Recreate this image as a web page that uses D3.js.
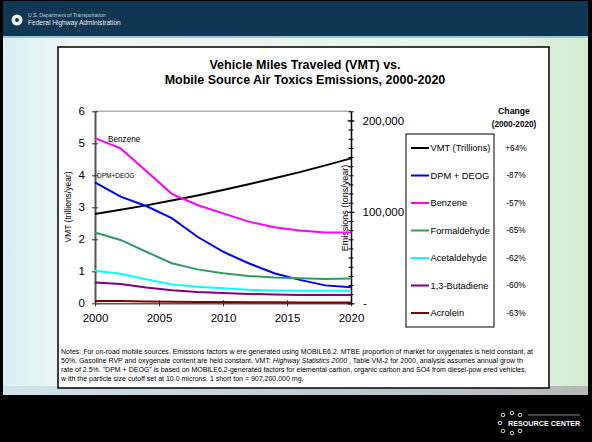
<!DOCTYPE html>
<html>
<head>
<meta charset="utf-8">
<script src="https://cdn.jsdelivr.net/npm/d3@7"></script>
<style>
  body { margin: 0; background: #000; }
  svg { display: block; }
  text { font-family: "Liberation Sans", Arial, sans-serif; }
</style>
</head>
<body>
<div id="chart"></div>
<script>
// data
var years = [2000, 2002, 2004, 2006, 2008, 2010, 2012, 2014, 2016, 2018, 2020];
var vmt = [2.79, 2.92, 3.06, 3.21, 3.37, 3.54, 3.72, 3.91, 4.10, 4.31, 4.53]; // trillions/year
var dpmDeog = [132300, 116600, 106400, 93100, 72800, 56400, 43800, 32900, 25600, 19600, 17500]; // tons/year
var benzene = [180600, 169400, 144600, 119700, 107500, 98400, 89300, 83100, 79500, 77400, 77400];
var formaldehyde = [77400, 69300, 56400, 43800, 37100, 32900, 29800, 28200, 27300, 26600, 27100];
var acetaldehyde = [35700, 32200, 26300, 20700, 18200, 16500, 14700, 14000, 13800, 13600, 13600];
var butadiene = [22800, 21000, 17200, 14400, 12300, 11200, 10200, 9500, 9100, 9100, 9100];
var acrolein = [2600, 2450, 2100, 1750, 1550, 1400, 1250, 1100, 1000, 970, 960];

var seriesNames = ["VMT (Trillions)", "DPM + DEOG", "Benzene", "Formaldehyde", "Acetaldehyde", "1,3-Butadiene", "Acrolein"];
var changeLabels = ["+64%", "-87%", "-57%", "-65%", "-62%", "-60%", "-63%"];
var leftTicks = [0, 1, 2, 3, 4, 5, 6];
var rightTicks = [0, 100000, 200000];
var xTicks = [2000, 2005, 2010, 2015, 2020];

var emissions = [dpmDeog, benzene, formaldehyde, acetaldehyde, butadiene, acrolein];
var colors = ["#000000", "#0000ff", "#ff00ff", "#339966", "#00ffff", "#800080", "#800000"];

var W = 592, H = 442;
var svg = d3.select("#chart").append("svg")
    .attr("width", W)
    .attr("height", H);

var defs = svg.append("defs");
var bg = defs.append("linearGradient").attr("id", "bg").attr("x1", 0).attr("x2", 1).attr("y1", 0).attr("y2", 0);
bg.append("stop").attr("offset", "0%").attr("stop-color", "#d9eef2");
bg.append("stop").attr("offset", "12%").attr("stop-color", "#eef7f6");
bg.append("stop").attr("offset", "88%").attr("stop-color", "#e4f4e4");
bg.append("stop").attr("offset", "100%").attr("stop-color", "#d0ecd0");
var bot = defs.append("linearGradient").attr("id", "bot").attr("x1", 0).attr("x2", 1).attr("y1", 0).attr("y2", 0);
bot.append("stop").attr("offset", "0%").attr("stop-color", "#cfe4ea");
bot.append("stop").attr("offset", "100%").attr("stop-color", "#b8b8b8");

// slide background
svg.append("rect").attr("x", 0).attr("y", 0).attr("width", W).attr("height", H).attr("fill", "#000");
svg.append("rect").attr("x", 3).attr("y", 1).attr("width", 585).attr("height", 35).attr("fill", "#0d3753");
svg.append("rect").attr("x", 3).attr("y", 36).attr("width", 585).attr("height", 352).attr("fill", "url(#bg)");
svg.append("rect").attr("x", 3).attr("y", 36).attr("width", 585).attr("height", 2).attr("fill", "#9fc3cf");
svg.append("rect").attr("x", 3).attr("y", 386).attr("width", 585).attr("height", 9).attr("fill", "url(#bot)");

// header logo + agency name
svg.append("circle").attr("cx", 17).attr("cy", 20).attr("r", 5.5).attr("fill", "#e8eef2");
svg.append("circle").attr("cx", 17).attr("cy", 20).attr("r", 2).attr("fill", "#0d3753");
svg.append("text").attr("x", 28).attr("y", 17).attr("fill", "#c9d6de").style("font-size", "5.1px")
    .text("U.S. Department of Transportation");
svg.append("text").attr("x", 28).attr("y", 25).attr("fill", "#e6ecf0").style("font-size", "6.6px")
    .text("Federal Highway Administration");

// resource center logo
var dots = [[503, 415], [512, 413], [520, 415], [500, 423], [503, 431], [512, 433], [520, 431]];
svg.selectAll("circle.dot").data(dots).enter().append("circle")
    .attr("class", "dot")
    .attr("cx", d => d[0]).attr("cy", d => d[1]).attr("r", 1.8)
    .attr("fill", "none").attr("stroke", "#ddd").attr("stroke-width", 1);
svg.append("text").attr("x", 508).attr("y", 426).attr("fill", "#fff")
    .style("font-size", "7.2px").style("font-weight", "bold").text("RESOURCE CENTER");
svg.append("rect").attr("x", 528).attr("y", 414.5).attr("width", 52).attr("height", 1).attr("fill", "#888");

// chart panel
svg.append("rect").attr("x", 58).attr("y", 47).attr("width", 491).attr("height", 341)
    .attr("fill", "#fff").attr("stroke", "#000").attr("stroke-width", 1.5);

svg.append("text").attr("x", 305).attr("y", 69).attr("text-anchor", "middle")
    .style("font-size", "12.5px").style("font-weight", "bold")
    .text("Vehicle Miles Traveled (VMT) vs.");
svg.append("text").attr("x", 305).attr("y", 84).attr("text-anchor", "middle")
    .style("font-size", "12.5px").style("font-weight", "bold")
    .text("Mobile Source Air Toxics Emissions, 2000-2020");

var x = d3.scaleLinear().domain([2000, 2020]).range([95, 351]);
var yL = d3.scaleLinear().domain([0, 6]).range([303.3, 111.3]);
var yR = d3.scaleLinear().domain([0, 210000]).range([303.3, 111.3]);

// plot top border
svg.append("line").attr("x1", 95).attr("x2", 351).attr("y1", 111.3).attr("y2", 111.3)
    .attr("stroke", "#b0b0b0").attr("stroke-width", 1.5);

// left axis
var gL = svg.append("g").attr("transform", "translate(95,0)")
    .call(d3.axisLeft(yL).tickValues(leftTicks).tickFormat(d3.format("d"))
      .tickSize(3).tickPadding(7).tickSizeOuter(0));
gL.select(".domain").attr("stroke", "#555").attr("stroke-width", 2);
gL.selectAll(".tick line").attr("x1", 3).attr("stroke", "#333");
gL.selectAll(".tick text").style("font-size", "11.5px").style("font-family", "Liberation Sans, Arial, sans-serif");

// bottom axis
var gX = svg.append("g").attr("transform", "translate(0,303.3)")
    .call(d3.axisBottom(x).tickValues(xTicks).tickFormat(d3.format("d")).tickSize(3).tickPadding(8).tickSizeOuter(0));
gX.select(".domain").attr("stroke", "#555").attr("stroke-width", 1.5);
gX.selectAll(".tick line").attr("y1", -3).attr("stroke", "#333");
gX.selectAll(".tick text").style("font-size", "11.5px").style("font-family", "Liberation Sans, Arial, sans-serif");

// right axis with minor ticks
var minor = d3.range(0, 210001, 10000);
var gRm = svg.append("g").attr("transform", "translate(351,0)")
    .call(d3.axisRight(yR).tickValues(minor).tickSize(2.5).tickFormat("").tickSizeOuter(0));
gRm.selectAll(".tick line").attr("x1", -2.5);
gRm.select(".domain").attr("stroke", "#000").attr("stroke-width", 1.5);
var gR = svg.append("g").attr("transform", "translate(351,0)")
    .call(d3.axisRight(yR).tickValues(rightTicks).tickSize(3.5).tickPadding(8)
      .tickFormat(d => d === 0 ? "-" : d3.format(",")(d)).tickSizeOuter(0));
gR.select(".domain").remove();
gR.selectAll(".tick line").attr("x1", -3.5);
gR.selectAll(".tick text").style("font-size", "11.5px").style("font-family", "Liberation Sans, Arial, sans-serif")
    .attr("dy", "0.32em");
gR.selectAll(".tick").filter(d => d === 0).select("text").attr("x", 12);

// axis titles
svg.append("text").attr("transform", "translate(71,207) rotate(-90)").attr("text-anchor", "middle")
    .style("font-size", "8.5px").text("VMT (trillions/year)");
svg.append("text").attr("transform", "translate(348,208) rotate(-90)").attr("text-anchor", "middle")
    .style("font-size", "9px").text("Emissions          (tons/year)");

// lines
var lineL = d3.line().x((d, i) => x(years[i])).y(d => yL(d));
var lineR = d3.line().x((d, i) => x(years[i])).y(d => yR(d));

svg.append("path").attr("d", lineL(vmt)).attr("fill", "none")
    .attr("stroke", colors[0]).attr("stroke-width", 2);
svg.selectAll("path.em").data(emissions).enter().append("path")
    .attr("class", "em")
    .attr("d", d => lineR(d))
    .attr("fill", "none")
    .attr("stroke", (d, i) => colors[i + 1])
    .attr("stroke-width", 2);

// in-plot labels
svg.append("text").attr("x", 108).attr("y", 142).style("font-size", "8.2px").text("Benzene");
svg.append("text").attr("x", 97).attr("y", 178).style("font-size", "6.5px").text("DPM+DEOG");

// legend
var legend = svg.append("g");
legend.append("rect").attr("x", 406).attr("y", 134).attr("width", 88).attr("height", 193)
    .attr("fill", "#fff").attr("stroke", "#000").attr("stroke-width", 1);
var ly = d3.scalePoint().domain(seriesNames).range([148, 313]);
var item = legend.selectAll("g.item").data(seriesNames).enter().append("g").attr("class", "item");
item.append("line").attr("x1", 411).attr("x2", 429)
    .attr("y1", d => ly(d)).attr("y2", d => ly(d))
    .attr("stroke", (d, i) => colors[i]).attr("stroke-width", 2);
item.append("text").attr("x", 430.5).attr("y", d => ly(d)).attr("dy", "0.35em")
    .style("font-size", "9.3px").text(d => d);

// change column
svg.append("text").attr("x", 514).attr("y", 114).attr("text-anchor", "middle")
    .style("font-size", "8.7px").style("font-weight", "bold").text("Change");
svg.append("text").attr("x", 514).attr("y", 127).attr("text-anchor", "middle")
    .style("font-size", "8.2px").style("font-weight", "bold").text("(2000-2020)");
svg.selectAll("text.chg").data(changeLabels).enter().append("text")
    .attr("class", "chg")
    .attr("x", 516).attr("y", (d, i) => ly(seriesNames[i])).attr("dy", "0.35em")
    .attr("text-anchor", "middle").style("font-size", "8.3px").text(d => d);

// notes
var notes = svg.append("g").style("font-size", "7px");
notes.append("text").attr("x", 61).attr("y", 354)
    .text("Notes: For on-road mobile sources.  Emissions factors w ere generated using MOBILE6.2.  MTBE proportion of market for oxygenates is held constant, at");
var n2 = notes.append("text").attr("x", 61).attr("y", 363);
n2.append("tspan").text("50%.  Gasoline RVP and oxygenate content are held constant.  VMT: ");
n2.append("tspan").style("font-style", "italic").text("Highway Statistics 2000");
n2.append("tspan").text(" , Table VM-2 for 2000,  analysis assumes annual grow th");
notes.append("text").attr("x", 61).attr("y", 372)
    .text("rate of 2.5%.  \"DPM + DEOG\" is based on MOBILE6.2-generated factors for elemental carbon, organic carbon and SO4 from diesel-pow ered vehicles,");
notes.append("text").attr("x", 61).attr("y", 381)
    .text("w ith the particle size cutoff set at 10.0 microns. 1 short ton = 907,200,000 mg.");
</script>
</body>
</html>
